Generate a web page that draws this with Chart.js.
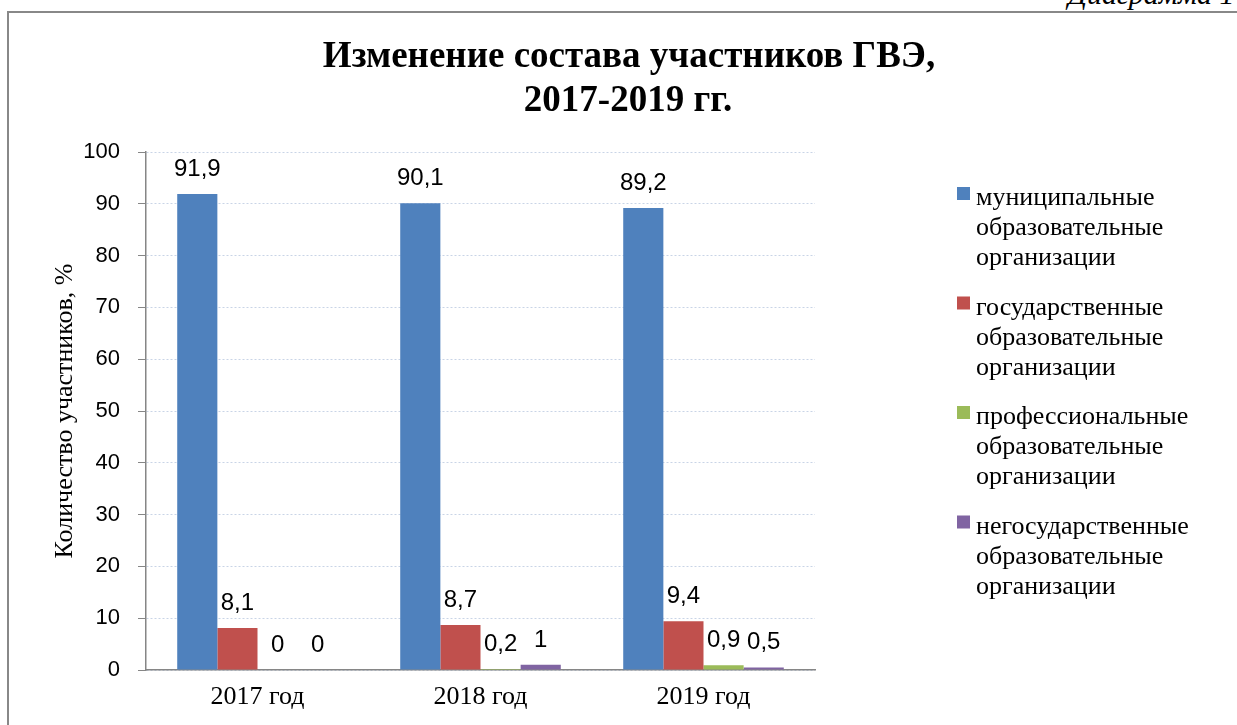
<!DOCTYPE html>
<html>
<head>
<meta charset="utf-8">
<script src="https://cdn.jsdelivr.net/npm/chart.js@4"></script>
<style>
  html, body { margin: 0; padding: 0; background: #fff; }
  #page { position: relative; width: 1237px; height: 725px; overflow: hidden; background: #fff; }
  #frame { position: absolute; left: 7px; top: 11px; width: 1400px; height: 900px; border: 2px solid #888; box-sizing: border-box; }
  #caption { position: absolute; left: 1068px; top: -23px; font-family: "Liberation Serif", serif; font-style: italic; font-size: 30px; color: #000; white-space: nowrap; }
  #c { position: absolute; left: 0; top: 0; }
</style>
</head>
<body>
<div id="page">
  <div id="caption">Диаграмма 1</div>
  <div id="frame"></div>
  <canvas id="c" width="1237" height="725"></canvas>
</div>
<script>
// ---- data ----
const categories = ["2017 год", "2018 год", "2019 год"];
const municipal = [91.9, 90.1, 89.2];
const state = [8.1, 8.7, 9.4];
const professional = [0, 0.2, 0.9];
const nonState = [0, 1, 0.5];
const seriesLegend = [
  ["муниципальные", "образовательные", "организации"],
  ["государственные", "образовательные", "организации"],
  ["профессиональные", "образовательные", "организации"],
  ["негосударственные", "образовательные", "организации"]
];
const titleLines = ["Изменение состава участников ГВЭ,", "2017-2019 гг."];
const yAxisTitle = "Количество участников, %";
const yMin = 0, yMax = 100, yStep = 10;

const colors = ["#4F81BD", "#C0504D", "#9BBB59", "#8064A2"];
const seriesValues = [municipal, state, professional, nonState];

const serif = '"Liberation Serif", "Times New Roman", serif';
const sans = '"Liberation Sans", Arial, sans-serif';

const fmt = v => String(v).replace('.', ',');

const labelsPlugin = {
  id: 'valueLabels',
  afterDatasetsDraw(chart) {
    const ctx = chart.ctx;
    ctx.save();
    ctx.font = '24px ' + sans;
    ctx.fillStyle = '#000';
    ctx.textAlign = 'center';
    ctx.textBaseline = 'alphabetic';
    chart.data.datasets.forEach((ds, i) => {
      const meta = chart.getDatasetMeta(i);
      meta.data.forEach((bar, j) => {
        ctx.fillText(fmt(ds.data[j]), bar.x, bar.y - 18);
      });
    });
    ctx.restore();
  }
};

const titlePlugin = {
  id: 'customTitle',
  afterDraw(chart) {
    const ctx = chart.ctx;
    ctx.save();
    ctx.font = 'bold 37px ' + serif;
    ctx.fillStyle = '#000';
    ctx.textAlign = 'center';
    ctx.textBaseline = 'alphabetic';
    ctx.fillText(titleLines[0], 629, 67);
    ctx.fillText(titleLines[1], 628, 111);
    ctx.restore();
  }
};

const legendPlugin = {
  id: 'customLegend',
  afterDraw(chart) {
    const ctx = chart.ctx;
    ctx.save();
    ctx.font = '26px ' + serif;
    ctx.textAlign = 'left';
    ctx.textBaseline = 'alphabetic';
    chart.data.datasets.forEach((ds, i) => {
      const base = 205 + i * 109.5;
      ctx.fillStyle = ds.backgroundColor;
      ctx.fillRect(957, base - 18, 13, 13);
      ctx.fillStyle = '#000';
      seriesLegend[i].forEach((line, k) => {
        ctx.fillText(line, 976, base + k * 30);
      });
    });
    ctx.restore();
  }
};

new Chart(document.getElementById('c'), {
  type: 'bar',
  data: {
    labels: categories,
    datasets: seriesValues.map((vals, i) => ({
      label: seriesLegend[i].join(' '),
      data: vals,
      backgroundColor: colors[i],
      borderWidth: 0,
      categoryPercentage: 0.72,
      barPercentage: 1.0
    }))
  },
  options: {
    responsive: false,
    animation: false,
    layout: { padding: { top: 152, right: 422, bottom: 0, left: 0 } },
    plugins: {
      legend: { display: false },
      title: { display: false },
      tooltip: { enabled: false }
    },
    scales: {
      x: {
        grid: { display: false, drawTicks: false },
        border: { display: true, color: '#868686', width: 1.5 },
        ticks: { color: '#000', font: { family: serif, size: 26 }, padding: 12 },
        afterFit(s) { s.height = 55; }
      },
      y: {
        min: yMin, max: yMax,
        grid: {
          color: '#c9d4e6',
          tickColor: '#868686',
          tickLength: 8,
          tickBorderDash: [],
          drawTicks: true
        },
        border: { display: true, color: '#868686', width: 1.5, dash: [2, 2] },
        ticks: { stepSize: yStep, color: '#000', font: { family: sans, size: 22 }, padding: 18 },
        title: {
          display: true,
          text: yAxisTitle,
          color: '#000',
          font: { family: serif, size: 26 },
          padding: { top: 50, bottom: 0 }
        },
        afterFit(s) { s.width = 146; }
      }
    }
  },
  plugins: [labelsPlugin, titlePlugin, legendPlugin]
});
</script>
</body>
</html>
